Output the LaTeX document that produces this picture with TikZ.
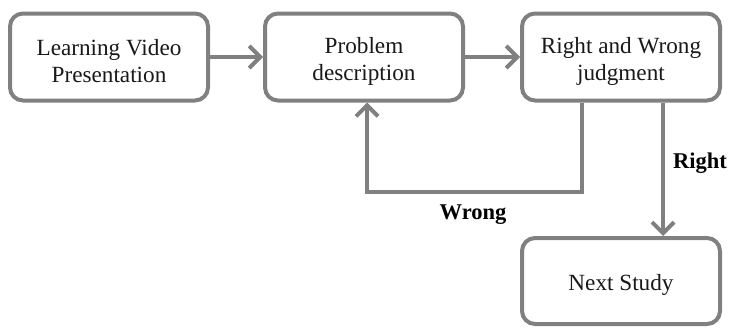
\documentclass[tikz,border=0pt]{standalone}
\usepackage{fontspec}
\setmainfont{Liberation Serif}
\usetikzlibrary{arrows.meta}
\definecolor{edgegray}{RGB}{128,128,128}
\newcommand{\tup}{\rule{0pt}{24pt}}
\begin{document}
\begin{tikzpicture}[x=1pt,y=-1pt,
  box/.style={draw=edgegray, line width=4pt, rounded corners=13pt, fill=white,
    minimum width=198pt, minimum height=87pt, inner sep=0pt, align=center,
    font=\fontsize{23.2}{27}\selectfont, text=black!90},
  conn/.style={draw=edgegray, line width=4pt,
    -{Straight Barb[length=11pt,width=22pt,line width=4pt]}},
  lbl/.style={font=\fontsize{22.5}{27}\selectfont\bfseries, text=black}
]
\useasboundingbox (0,0) rectangle (730,327);
\node[box] (lvp) at (109,57) {\tup Learning Video\\Presentation};
\node[box] (pd) at (364,57) {\tup Problem\\description};
\node[box] (rw) at (621,57) {\tup Right and Wrong\\judgment};
\node[box, minimum height=86pt] (ns) at (621,281) {\tup Next Study};
\coordinate (wturn) at (582,192);
\coordinate (pdin) at ([xshift=3pt]pd.south);
\draw[conn] (lvp.east) -- (pd.west);
\draw[conn] (pd.east) -- (rw.west);
\draw[conn] ([xshift=-39pt]rw.south) |- (wturn -| pdin) -- (pdin);
\draw[conn] ([xshift=42pt]rw.south) -- ([xshift=42pt]ns.north);
\node[lbl] (right) at (700,163) {Right};
\node[lbl] (wrong) at (473,215) {Wrong};
\end{tikzpicture}
\end{document}
